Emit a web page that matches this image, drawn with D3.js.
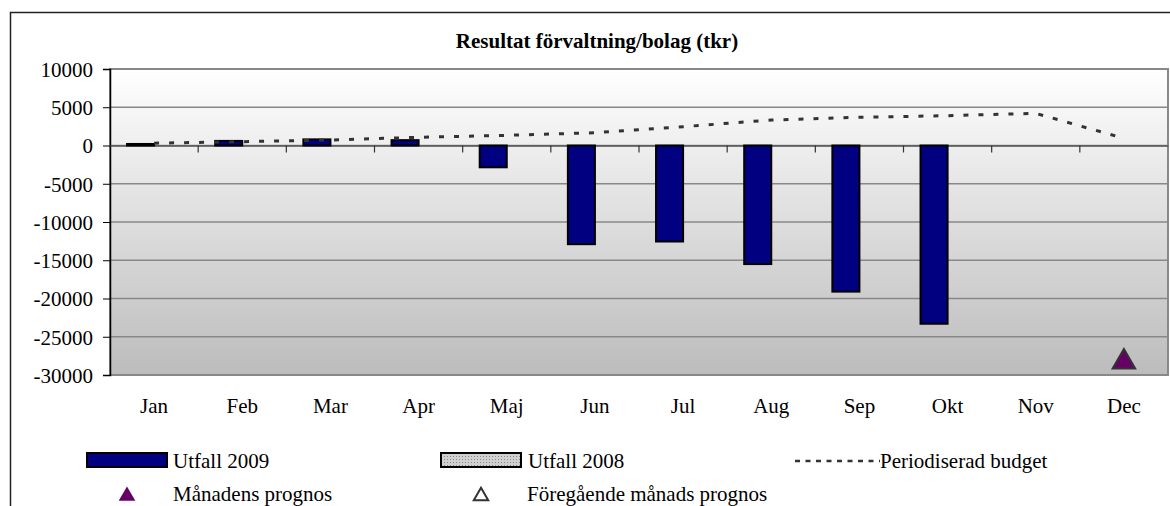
<!DOCTYPE html>
<html>
<head>
<meta charset="utf-8">
<style>
    body { margin: 0; background: #fff; }
    svg { display: block; font-family: 'Liberation Serif', 'Times New Roman', serif; }
    svg text { font-family: 'Liberation Serif', 'Times New Roman', serif; }
    .y .tick text { font-size: 21px; fill: #000; }
    .legend text { font-size: 21px; fill: #000; }
</style>
</head>
<body>
<svg width="1170" height="506"></svg>
<script src="https://d3js.org/d3.v7.min.js"></script>
<script>
// data (tkr)
let months = ["Jan", "Feb", "Mar", "Apr", "Maj", "Jun", "Jul", "Aug", "Sep", "Okt", "Nov", "Dec"]
let utfall2009 = [200, 600, 800, 700, -2850, -12900, -12550, -15500, -19100, -23300, null, null]
let utfall2008 = [null, null, null, null, null, null, null, null, null, null, null, null]
let budget = [300, 500, 720, 1070, 1330, 1670, 2460, 3330, 3690, 3900, 4200, 940]
let prognos = [{ month: "Dec", value: -28300 }]
let yTicks = [10000, 5000, 0, -5000, -10000, -15000, -20000, -25000, -30000]

let svg = d3.select("svg")
let margin = { top: 69, right: 2, bottom: 131, left: 110 }
let width = 1170, height = 506
let serif = "'Liberation Serif', 'Times New Roman', serif"

let x = d3.scaleBand()
    .domain(months)
    .range([margin.left, width - margin.right])

let y = d3.scaleLinear()
    .domain([-30000, 10000])
    .range([height - margin.bottom, margin.top])

// outer chart frame
svg.append("rect")
    .attr("x", 10.5).attr("y", 12.5)
    .attr("width", 1180).attr("height", 520)
    .style("fill", "none").style("stroke", "#222").style("stroke-width", 1.5)

// plot background gradient
let defs = svg.append("defs")
let grad = defs.append("linearGradient")
    .attr("id", "bg").attr("x1", 0).attr("x2", 0).attr("y1", 0).attr("y2", 1)
grad.append("stop").attr("offset", "0%").attr("stop-color", "#ffffff")
grad.append("stop").attr("offset", "100%").attr("stop-color", "#bcbcbc")

let pat = defs.append("pattern")
    .attr("id", "dots").attr("width", 3).attr("height", 3)
    .attr("patternUnits", "userSpaceOnUse")
pat.append("rect").attr("width", 3).attr("height", 3).attr("fill", "#d0d0d0")
pat.append("rect").attr("width", 1).attr("height", 1).attr("fill", "#8a8a8a")

svg.append("rect")
    .attr("x", margin.left).attr("y", margin.top)
    .attr("width", width - margin.right - margin.left)
    .attr("height", y(-30000) - y(10000))
    .style("fill", "url(#bg)")

// gridlines
svg.append("g")
    .selectAll("line")
    .data(yTicks)
    .join("line")
    .attr("x1", margin.left).attr("x2", width - margin.right)
    .attr("y1", d => y(d)).attr("y2", d => y(d))
    .style("stroke", "#888").style("stroke-width", 1.5)

// plot border
svg.append("rect")
    .attr("x", margin.left).attr("y", margin.top)
    .attr("width", width - margin.right - margin.left)
    .attr("height", y(-30000) - y(10000))
    .style("fill", "none").style("stroke", "#888").style("stroke-width", 2)

// y axis
let yAxis = svg.append("g")
    .attr("class", "y axis")
    .attr("transform", `translate(${margin.left},0)`)
    .call(d3.axisLeft(y).tickValues(yTicks).tickSize(7).tickPadding(10).tickFormat(d => String(d)))
yAxis.attr("font-family", serif).attr("font-size", 21)
yAxis.select(".domain").style("stroke", "#000").style("stroke-width", 1.5)
yAxis.selectAll(".tick line").style("stroke", "#000")
yAxis.selectAll(".tick text")
    .attr("dy", "0.35em")
    .style("font-family", serif)
    .style("font-size", "21px")

// x axis sits on the zero line, labels below the plot
let xAxis = svg.append("g")
    .attr("class", "x axis")
    .attr("transform", `translate(0,${y(0)})`)
    .call(d3.axisBottom(x).tickSize(0).tickFormat(""))
xAxis.select(".domain").style("stroke", "#555").style("stroke-width", 1.5)

// category boundary ticks
svg.append("g")
    .selectAll("line")
    .data(months.slice(1))
    .join("line")
    .attr("x1", d => x(d)).attr("x2", d => x(d))
    .attr("y1", y(0)).attr("y2", y(0) + 7)
    .style("stroke", "#333").style("stroke-width", 1.2)

svg.append("g")
    .selectAll("text")
    .data(months)
    .join("text")
    .attr("x", d => x(d) + x.bandwidth() / 2)
    .attr("y", 413)
    .attr("text-anchor", "middle")
    .style("font-size", "21px")
    .text(d => d)

// bars: two slots per month, 2009 on the left
let inner = d3.scaleBand()
    .domain(["2009", "2008"])
    .range([0, x.bandwidth()])
    .paddingOuter(0.63)
    .paddingInner(0)

let bars2009 = months.map((m, i) => ({ month: m, value: utfall2009[i] })).filter(d => d.value != null)
svg.append("g")
    .selectAll("rect")
    .data(bars2009)
    .join("rect")
    .attr("x", d => x(d.month) + inner("2009"))
    .attr("width", inner.bandwidth())
    .attr("y", d => y(Math.max(0, d.value)))
    .attr("height", d => Math.max(Math.abs(y(d.value) - y(0)), 1))
    .style("fill", "#000080")
    .style("stroke", "#000").style("stroke-width", 2)

let bars2008 = months.map((m, i) => ({ month: m, value: utfall2008[i] })).filter(d => d.value != null)
svg.append("g")
    .selectAll("rect")
    .data(bars2008)
    .join("rect")
    .attr("x", d => x(d.month) + inner("2008"))
    .attr("width", inner.bandwidth())
    .attr("y", d => y(Math.max(0, d.value)))
    .attr("height", d => Math.abs(y(d.value) - y(0)))
    .style("fill", "url(#dots)")
    .style("stroke", "#000").style("stroke-width", 2)

// budget line
let line = d3.line()
    .x((d, i) => x(months[i]) + x.bandwidth() / 2)
    .y(d => y(d))
svg.append("path")
    .attr("d", line(budget))
    .style("fill", "none")
    .style("stroke", "#333")
    .style("stroke-width", 3)
    .style("stroke-dasharray", "5,10")

// forecast triangle
let tri = d3.symbol().type(d3.symbolTriangle).size(220)
svg.append("g")
    .selectAll("path")
    .data(prognos)
    .join("path")
    .attr("d", tri)
    .attr("transform", d => `translate(${x(d.month) + x.bandwidth() / 2},${y(d.value)})`)
    .style("fill", "#660066")
    .style("stroke", "#333").style("stroke-width", 2)

// title
svg.append("text")
    .attr("x", 597).attr("y", 48)
    .attr("text-anchor", "middle")
    .style("font-size", "21px").style("font-weight", "bold")
    .text("Resultat förvaltning/bolag (tkr)")

// legend
let legend = svg.append("g").attr("class", "legend")

legend.append("rect")
    .attr("x", 87).attr("y", 453).attr("width", 80).attr("height", 14)
    .style("fill", "#000080").style("stroke", "#000").style("stroke-width", 2)
legend.append("text").attr("x", 173).attr("y", 468).text("Utfall 2009")

legend.append("rect")
    .attr("x", 441).attr("y", 453).attr("width", 80).attr("height", 14)
    .style("fill", "url(#dots)").style("stroke", "#000").style("stroke-width", 2)
legend.append("text").attr("x", 528).attr("y", 468).text("Utfall 2008")

legend.append("line")
    .attr("x1", 795).attr("x2", 880).attr("y1", 461).attr("y2", 461)
    .style("stroke", "#333").style("stroke-width", 2.5).style("stroke-dasharray", "5,5.5")
legend.append("text").attr("x", 880).attr("y", 468).text("Periodiserad budget")

legend.append("path")
    .attr("d", d3.symbol().type(d3.symbolTriangle).size(120))
    .attr("transform", "translate(127,496)")
    .style("fill", "#660066")
legend.append("text").attr("x", 173).attr("y", 501).text("Månadens prognos")

legend.append("path")
    .attr("d", d3.symbol().type(d3.symbolTriangle).size(90))
    .attr("transform", "translate(481,496)")
    .style("fill", "none").style("stroke", "#333").style("stroke-width", 2)
legend.append("text").attr("x", 527).attr("y", 501).text("Föregående månads prognos")
</script>
</body>
</html>
